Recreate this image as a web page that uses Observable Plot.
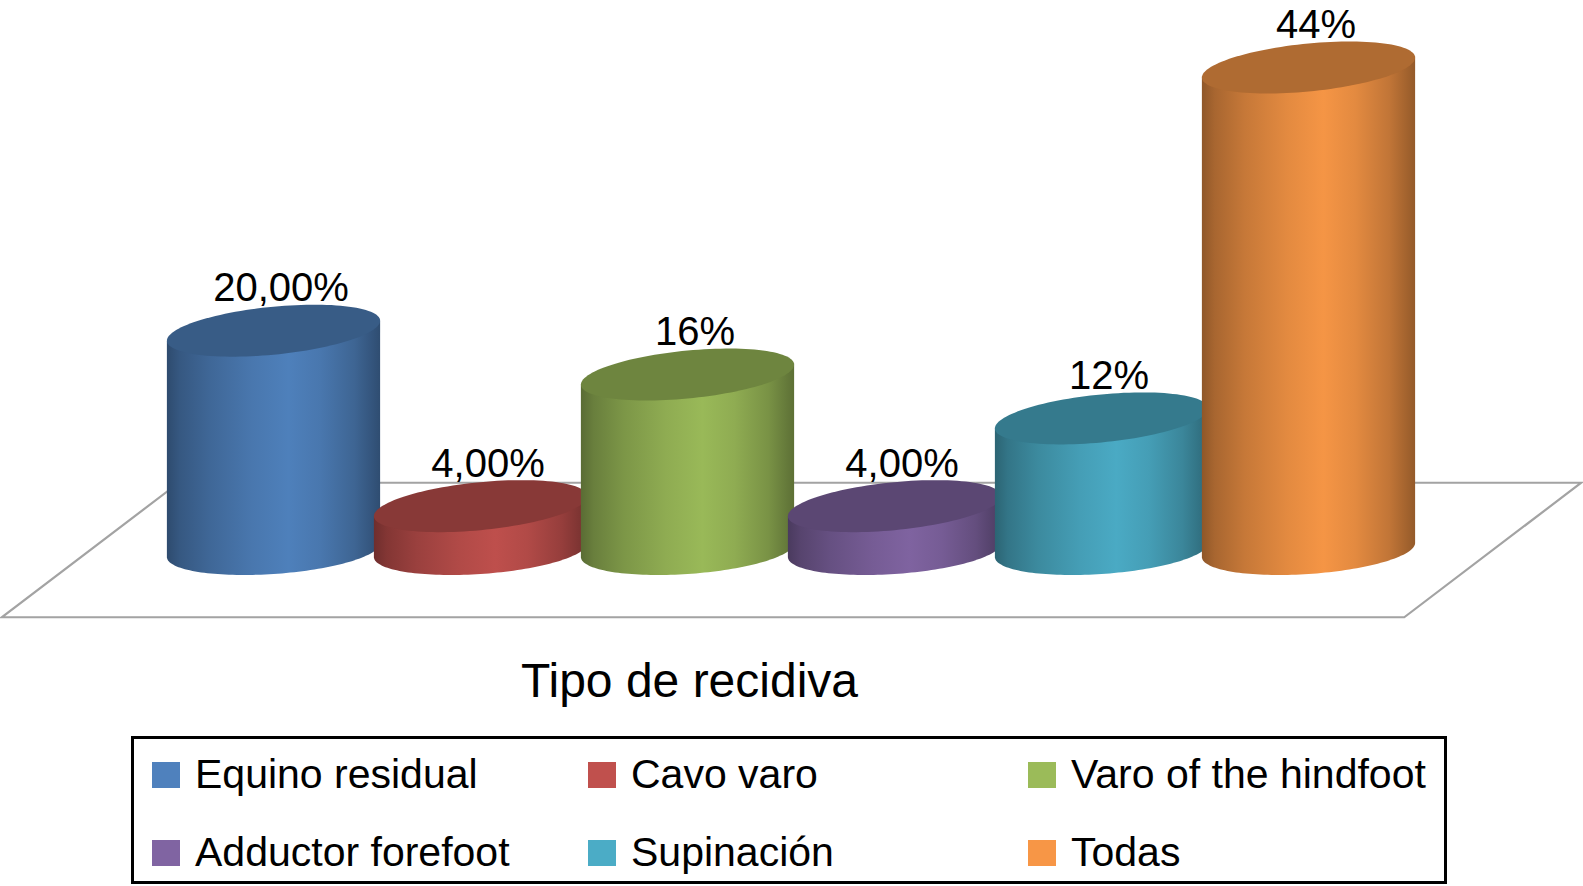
<!DOCTYPE html>
<html>
<head>
<meta charset="utf-8">
<script src="https://cdn.jsdelivr.net/npm/d3@7"></script>
<script src="https://cdn.jsdelivr.net/npm/@observablehq/plot@0.6"></script>
<style>
html, body { margin: 0; padding: 0; background: #fff; overflow: hidden; }
#wrap { position: relative; width: 1583px; height: 886px; font-family: "Liberation Sans", Arial, Helvetica, sans-serif; }
#chart { position: absolute; left: 0; top: 0; }
#title { position: absolute; left: 0; top: 657px; width: 1379px; text-align: center; font-size: 48px; line-height: 48px; color: #000; }
#legend { position: absolute; left: 131px; top: 736px; width: 1316px; height: 148px; box-sizing: border-box; border: 3px solid #000; padding-left: 18px; }
.lg-swatches { display: grid !important; grid-template-columns: 436px 440px 420px; grid-template-rows: 71px 71px; row-gap: 7px; margin: 0 !important; font-family: "Liberation Sans", Arial, sans-serif !important; font-size: 41px !important; color: #000; align-items: center; }
.lg-swatch { display: flex !important; align-items: center; margin: 0 !important; white-space: nowrap; }
.lg-swatch > svg { margin-right: 15px !important; }
</style>
</head>
<body>
<div id="wrap"><div id="chart"></div><div id="title"></div><div id="legend"></div></div>
<script>
// ---- data ----
const categories = ["Equino residual", "Cavo varo", "Varo of the hindfoot", "Adductor forefoot", "Supinación", "Todas"];
const values = [20, 4, 16, 4, 12, 44];
const valueLabels = ["20,00%", "4,00%", "16%", "4,00%", "12%", "44%"];
const palette = ["#4F81BD", "#C0504D", "#9BBB59", "#8064A2", "#4BACC6", "#F79646"];
const axisTitle = "Tipo de recidiva";

const rows = categories.map((category, i) => ({category, value: values[i], label: valueLabels[i], color: palette[i]}));

function shade(c, f) {
  const r = d3.rgb(c);
  return d3.rgb(Math.min(255, r.r * f), Math.min(255, r.g * f), Math.min(255, r.b * f)).formatHex();
}
const sideStops = [[0, 0.58], [0.06, 0.68], [0.2, 0.8], [0.4, 0.92], [0.57, 0.99], [0.72, 0.92], [0.88, 0.78], [0.96, 0.66], [1, 0.6]];
const toPath = (pts) => "M" + pts.map(p => p[0].toFixed(2) + "," + p[1].toFixed(2)).join("L") + "Z";

// custom mark: floor + 3D cylinders positioned through Plot's x (band) and y (linear) scales
function cylinderMark(index, scales) {
  const x = scales.x, y = scales.y;
  const bw = x.bandwidth(), step = x.step();
  const [r0, r1] = x.range();
  const y0 = y(0);
  const g = d3.create("svg:g");
  const defs = g.append("defs");
  const depth = step * 0.325, shift = step * 0.4275, ext = step * 0.379;
  const floor = [[r0 - ext - shift, y0 + depth], [r1 + ext - shift, y0 + depth], [r1 + ext + shift, y0 - depth], [r0 - ext + shift, y0 - depth]];
  g.append("path").attr("d", toPath(floor)).attr("fill", "#fff").attr("stroke", "#a3a3a3").attr("stroke-width", 2.2);
  const a = bw * 0.515, b = 24, kTop = 10, kBot = 7;
  const ell = (cx, cy, k, t0, t1, n) => d3.range(n + 1).map(i => {
    const t = t0 + (t1 - t0) * i / n;
    return [cx + a * Math.cos(t), cy + b * Math.sin(t) - k * Math.cos(t)];
  });
  rows.forEach((d, i) => {
    const cx = x(d.category) + bw / 2, yt = y(d.value);
    const side = defs.append("linearGradient").attr("id", "cyl-side-" + i).attr("x1", 0).attr("x2", 1).attr("y1", 0).attr("y2", 0);
    sideStops.forEach(([o, f]) => side.append("stop").attr("offset", o).attr("stop-color", shade(d.color, f)));
    const body = [[cx - a, yt + kTop], ...ell(cx, y0, kBot, Math.PI, 0, 80), [cx + a, yt - kTop]];
    g.append("path").attr("d", toPath(body)).attr("fill", "url(#cyl-side-" + i + ")");
    g.append("path").attr("d", toPath(ell(cx, yt, kTop, 0, 2 * Math.PI, 120))).attr("fill", shade(d.color, 0.71));
  });
  return g.node();
}

const chart = Plot.plot({
  width: 1583,
  height: 640,
  marginLeft: 168.7,
  marginRight: 168.7,
  marginTop: 67.5,
  marginBottom: 90,
  x: {type: "band", domain: categories, padding: 0, axis: null},
  y: {domain: [0, d3.max(values)], axis: null},
  style: {fontFamily: "'Liberation Sans', Arial, Helvetica, sans-serif", background: "transparent", overflow: "visible"},
  marks: [
    cylinderMark,
    Plot.text(rows, {x: "category", y: "value", text: "label", lineAnchor: "bottom", dy: -30, dx: 7, fontSize: 40, fill: "#000"})
  ]
});
document.getElementById("chart").append(chart);
document.getElementById("title").textContent = axisTitle;

const legend = Plot.legend({
  legend: "swatches",
  color: {type: "ordinal", domain: categories, range: palette},
  swatchWidth: 28,
  swatchHeight: 26,
  className: "lg"
});
document.getElementById("legend").append(legend);
</script>
</body>
</html>
